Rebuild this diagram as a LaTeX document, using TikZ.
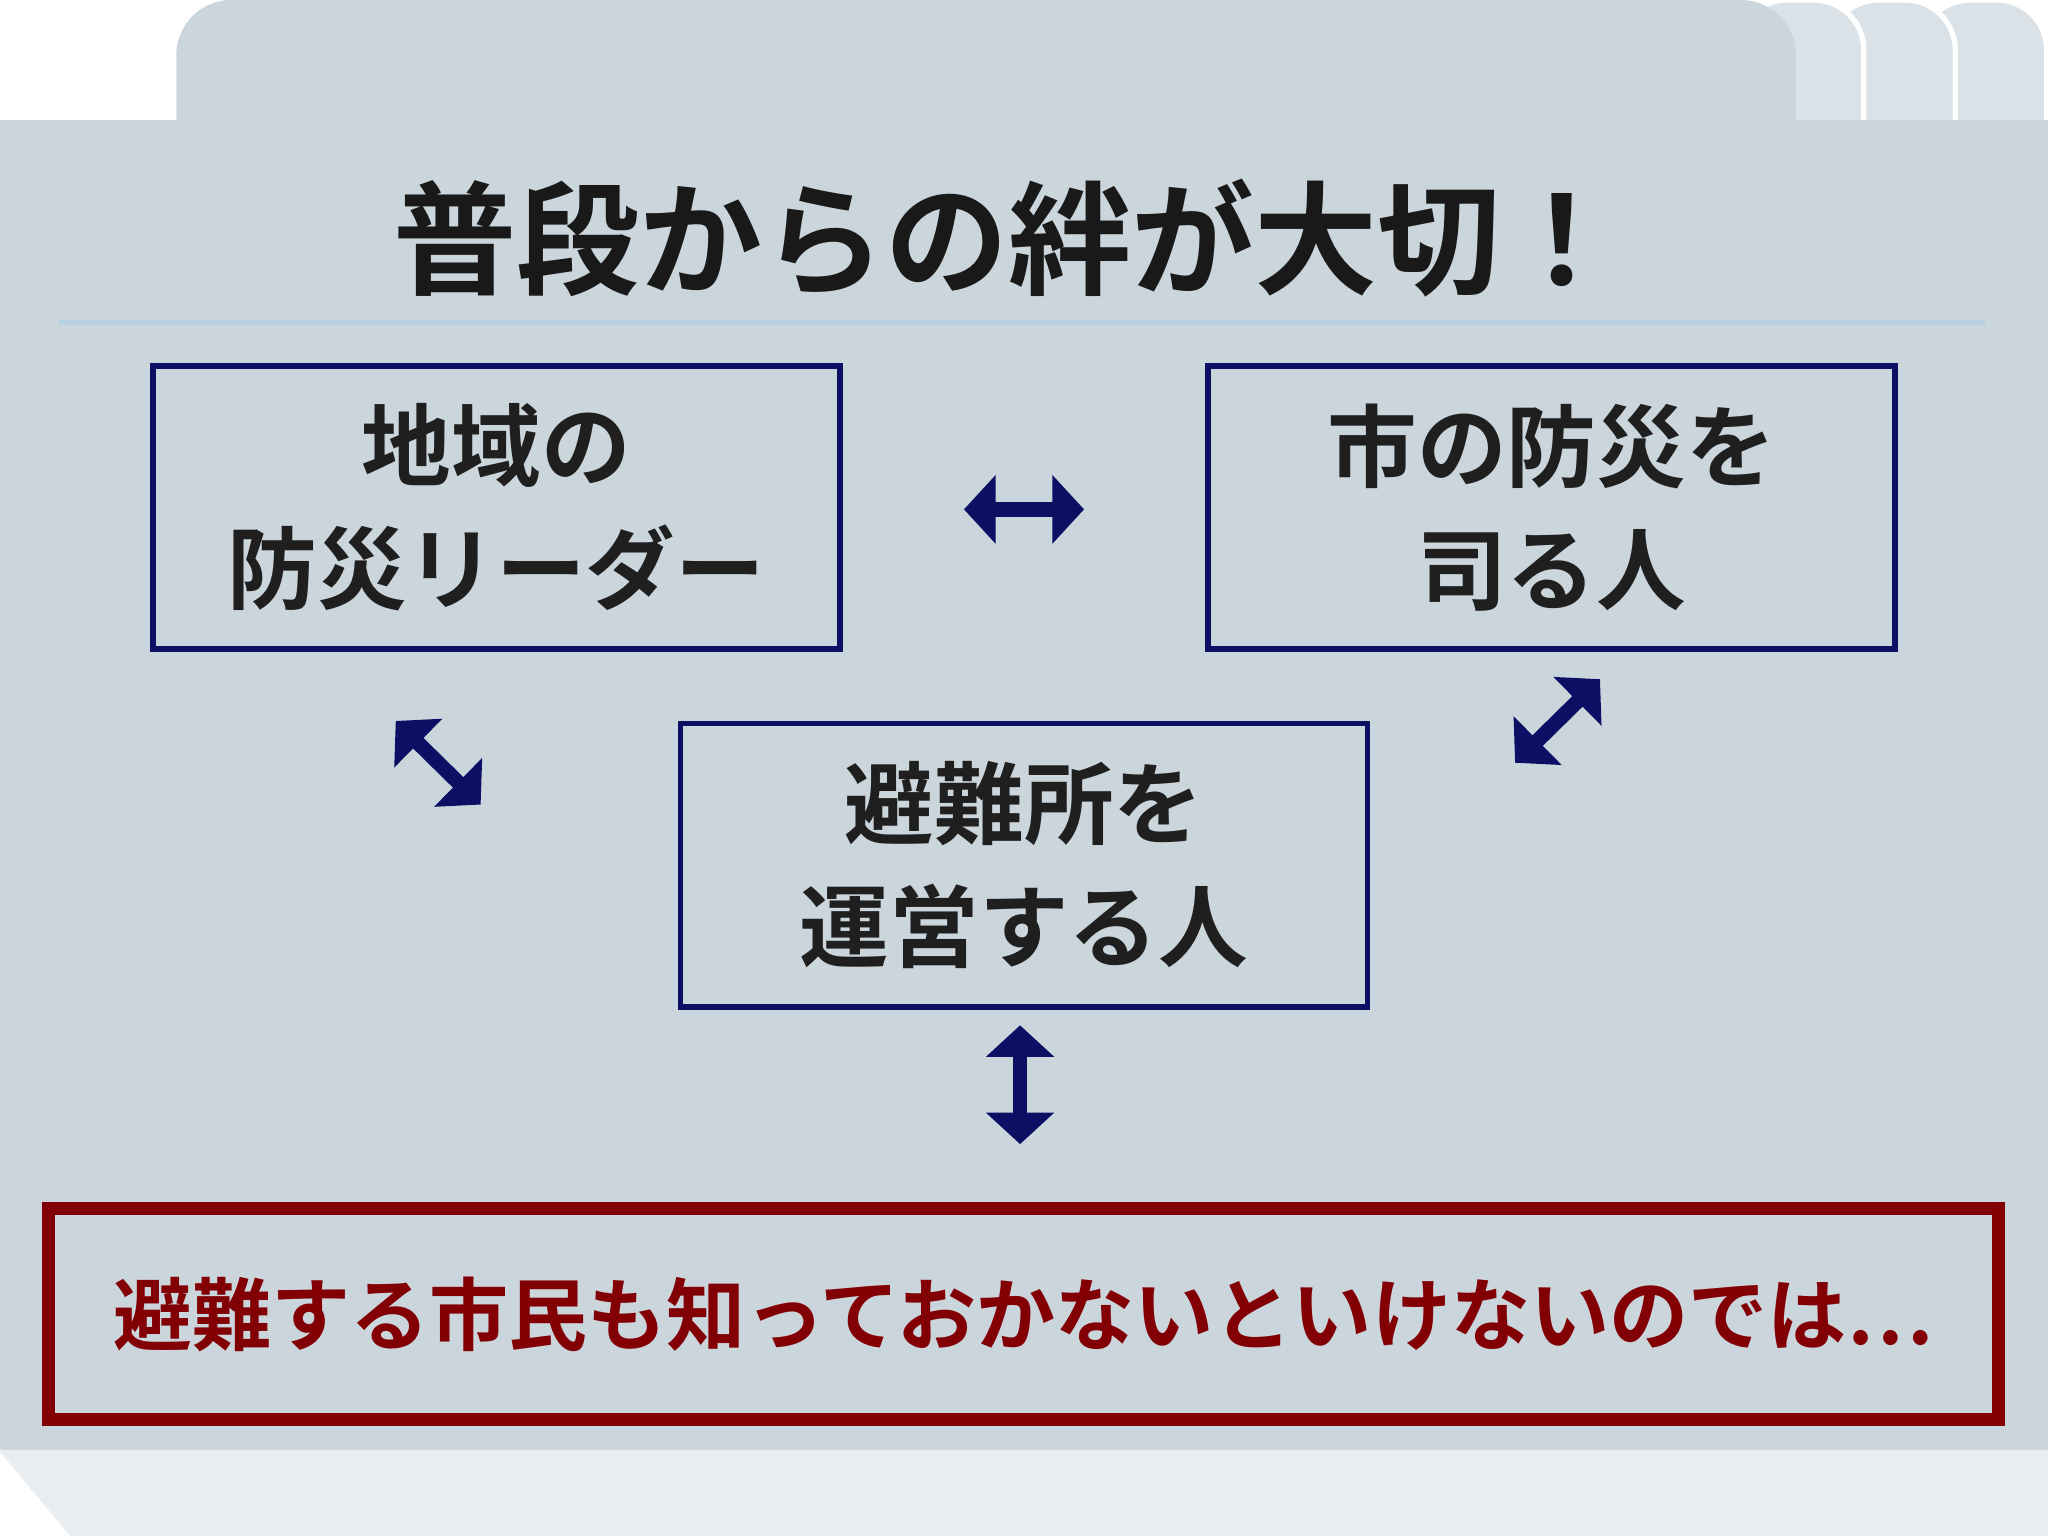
\documentclass[tikz,border=0pt]{standalone}
\usepackage{fontspec}
\newfontfamily\jp{Noto Sans CJK JP Bold}
\usetikzlibrary{arrows.meta}
\definecolor{panel}{HTML}{CBD5DC}
\definecolor{strip}{HTML}{E9EDF0}
\definecolor{navy}{HTML}{0C1064}
\definecolor{dred}{HTML}{820004}
\begin{document}
\begin{tikzpicture}[x=0.013061cm,y=-0.013061cm,
  box/.style={draw=navy,line width=1.6pt,minimum width=526*0.013061cm,minimum height=217*0.013061cm,align=center,font=\jp\fontsize{25.5}{35}\selectfont,text=black!88},
  dbl/.style={navy,line width=4.2pt,{Triangle[length=9pt,width=19pt]}-{Triangle[length=9pt,width=19pt]}}]
\useasboundingbox (0,0) rectangle (1568,1176);
\fill[white] (0,0) rectangle (1568,1176);
% folder tabs
\foreach \x in {1470,1400,1330}{
 \fill[panel!70!white,draw=white,line width=1.5pt,rounded corners=0.5cm] (\x,120) -- (\x,0) -- (\x+97,0) -- (\x+97,120);}
\fill[panel,rounded corners=0.55cm] (135,120) -- (135,0) -- (1375,0) -- (1375,120);
\fill[panel] (0,92) rectangle (1568,1110);
\fill[strip] (0,1110) -- (1568,1110) -- (1568,1176) -- (55,1176) -- cycle;
\draw[white!60!panel,line width=0.8pt] (0,1110) -- (55,1176);
\node[font=\jp\fontsize{35}{42}\selectfont,text=black!90] (title) at (772,182) {普段からの絆が大切！};
\draw[cyan!15!panel,line width=1.5pt] (45,247) -- (1520,247);
\node[box] (a) at (380,388.5) {地域の\\防災リーダー};
\node[box] (b) at (1188,388.5) {市の防災を\\司る人};
\node[box] (c) at (784,662.5) {避難所を\\運営する人};
\node[draw=dred,line width=3.7pt,minimum width=1493*0.013061cm,minimum height=162*0.013061cm,text=dred,font=\jp\fontsize{22.5}{28}\selectfont] (d) at (783.5,1006) {避難する市民も知っておかないといけないのでは…};
\coordinate (h1) at (738,390); \coordinate (h2) at (830,390);
\coordinate (l1) at (303,552); \coordinate (l2) at (368,616);
\coordinate (r1) at (1225,520); \coordinate (r2) at (1160,584);
\coordinate (v1) at (781,785); \coordinate (v2) at (781,876);
\draw[dbl] (h1) -- (h2);
\draw[dbl] (l1) -- (l2);
\draw[dbl] (r1) -- (r2);
\draw[dbl] (v1) -- (v2);
\end{tikzpicture}
\end{document}
